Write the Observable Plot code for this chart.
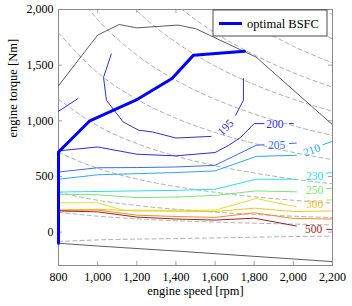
<!DOCTYPE html>
<html><head><meta charset="utf-8">
<script src="https://cdn.jsdelivr.net/npm/d3@7"></script>
<script src="https://cdn.jsdelivr.net/npm/@observablehq/plot@0.6"></script>
<style>html,body{margin:0;padding:0;background:#fff;} #chart{width:352px;height:306px;}
svg text{font-family:'Liberation Serif','Times New Roman',serif;}</style>
</head><body><div id="chart"></div>
<script>
// ---------- data ----------
const xTicks = [800, 1000, 1200, 1400, 1600, 1800, 2000, 2200];
const yTicks = [0, 500, 1000, 1500, 2000];
const xLabel = "engine speed [rpm]";
const yLabel = "engine torque [Nm]";
const legendLabel = "optimal BSFC";

// iso-power dashed lines: torque at the rpm ticks
const powerRpm = [800, 1000, 1200, 1400, 1600, 1800, 2000, 2200];
const powerNeg = [-85, -70, -63, -58, -52, -46, -40, -36];
const power15  = [179, 143, 119, 102, 90, 80, 72, 65];
const power30  = [358, 286, 239, 205, 179, 159, 143, 130];
const power60  = [716, 573, 477, 409, 358, 318, 286, 260];
const power100 = [1194, 955, 796, 682, 597, 531, 477, 434];
const power150 = [1790, 1432, 1194, 1023, 895, 796, 716, 651];
const power200 = [2387, 1910, 1592, 1364, 1194, 1061, 955, 868];
const power250 = [2984, 2387, 1989, 1705, 1492, 1326, 1194, 1085];
const power300 = [3581, 2865, 2387, 2046, 1790, 1592, 1432, 1302];
const power350 = [4178, 3342, 2785, 2387, 2089, 1857, 1671, 1519];
const power400 = [4775, 3820, 3183, 2728, 2387, 2122, 1910, 1736];
const power450 = [5371, 4297, 3581, 3070, 2686, 2387, 2149, 1953];

// full-load and motoring curves [rpm, torque]
const maxTorque = [[800,1315],[1000,1770],[1110,1865],[1200,1835],[1410,1860],[1500,1828],[1810,1572],[2200,965]];
const motoring = [[800,-100],[1000,-125],[1400,-170],[1800,-218],[2200,-265]];
const optimalBSFC = [[800,-100],[800,720],[960,1000],[1195,1185],[1380,1380],[1490,1590],[1750,1625]];

// BSFC contours [rpm, torque] (gaps where labels sit)
const c195a = [[1070,1600],[1030,1390],[1045,1185],[1130,990],[1210,915],[1280,900],[1400,845],[1580,860]];
const c195b = [[1705,1050],[1745,1185],[1745,1380]];
const c200a = [[800,1085],[900,1200]];
const c200b = [[800,730],[1000,765],[1200,700],[1400,685],[1600,715],[1670,780],[1730,850],[1800,975],[1850,975]];
const c200c = [[1980,975],[2000,975]];
const c205a = [[800,540],[1000,578],[1200,580],[1400,585],[1600,600],[1810,780],[1850,785]];
const c205b = [[1980,795],[2015,800]];
const c210a = [[800,475],[1000,515],[1200,525],[1400,535],[1600,550],[1810,680],[2015,690]];
const c210b = [[2150,785],[2200,815]];
const c230a = [[800,360],[1000,365],[1200,370],[1400,375],[1600,385],[1810,475],[2015,475]];
const c230b = [[2170,530],[2200,535]];
const c250a = [[800,340],[1000,335],[1200,310],[1400,315],[1600,330],[1810,370],[2015,362]];
const c250b = [[2170,390],[2200,395]];
const c300a = [[800,263],[1000,263],[1130,197],[1400,197],[1600,197],[1810,302],[2015,227]];
const c300b = [[2170,287],[2200,290]];
const c350  = [[800,200],[1000,205],[1200,190],[1400,188],[1600,185],[1800,215],[2000,185],[2200,190]];
const c400  = [[800,195],[1000,198],[1200,152],[1400,140],[1600,132],[1800,173],[2000,123],[2200,117]];
const c500a = [[800,190],[1000,182],[1200,135],[1400,118],[1600,108],[1800,125],[2015,55]];
const c500b = [[2170,25],[2200,22]];

// contour labels
const labelText   = ["195", "200", "205", "210", "230", "250", "300", "500"];
const labelRpm    = [1654, 1906, 1915, 2094, 2109, 2109, 2109, 2104];
const labelTorque = [940, 969, 780, 735, 500, 377, 251, 27];

// ---------- styles ----------
const levelColor = {
  195: "#3434b4", 200: "#2a2af0", 205: "#3b6bf0", 210: "#2ea8f8",
  230: "#2ee0e6", 250: "#78e678", 300: "#d2e636", 350: "#f4c424",
  400: "#f58a24", 500: "#9a2222"
};
const labelColor = {"195":"#3434b4","200":"#2a2af0","205":"#3b6bf0","210":"#2ea8f8","230":"#2ee0e6","250":"#78e678","300":"#f2c01a","500":"#9a2222"};
const labelAngle = {"195": -45, "210": -20};

const contourSegs = [
  [195, c195a], [195, c195b], [200, c200a], [200, c200b], [200, c200c],
  [205, c205a], [205, c205b], [210, c210a], [210, c210b],
  [230, c230a], [230, c230b], [250, c250a], [250, c250b],
  [300, c300a], [300, c300b], [350, c350], [400, c400], [500, c500a], [500, c500b]
];
const isoPower = [powerNeg, power15, power30, power60, power100, power150, power200, power250, power300, power350, power400, power450];

const W = 352, H = 306;
const mL = 58, mR = 20, mT = 9, mB = 41;
const frameW = W - mL - mR, frameH = H - mT - mB;
const tickLen = 4;
const font = "'Liberation Serif', 'Times New Roman', serif";

const marks = [];
marks.push(Plot.frame({stroke: "#8a8a8a", strokeWidth: 1}));
marks.push(Plot.tickX(xTicks, {x: d => d, insetTop: frameH - tickLen, stroke: "#8a8a8a", strokeWidth: 0.8}));
marks.push(Plot.tickX(xTicks, {x: d => d, insetBottom: frameH - tickLen, stroke: "#8a8a8a", strokeWidth: 0.8}));
marks.push(Plot.tickY(yTicks, {y: d => d, insetRight: frameW - tickLen, stroke: "#8a8a8a", strokeWidth: 0.8}));
marks.push(Plot.tickY(yTicks, {y: d => d, insetLeft: frameW - tickLen, stroke: "#8a8a8a", strokeWidth: 0.8}));
// dashed iso-power lines
for (const arr of isoPower) {
  marks.push(Plot.line(powerRpm.map((n, i) => ({rpm: n, torque: arr[i]})), {
    x: "rpm", y: "torque", curve: "monotone-x", clip: true,
    stroke: "#9a9a9a", strokeWidth: 0.8, strokeDasharray: "4,3.2"
  }));
}
// contours
for (const [lvl, pts] of contourSegs) {
  marks.push(Plot.line(pts, {x: d => d[0], y: d => d[1], clip: true,
    stroke: levelColor[lvl], strokeWidth: 1}));
}
// black curves
marks.push(Plot.line(maxTorque, {x: d => d[0], y: d => d[1], stroke: "#1a1a1a", strokeWidth: 0.7, clip: true}));
marks.push(Plot.line(motoring, {x: d => d[0], y: d => d[1], stroke: "#1a1a1a", strokeWidth: 0.7, clip: true}));
// optimal BSFC
marks.push(Plot.line(optimalBSFC, {x: d => d[0], y: d => d[1], stroke: "#0000ff", strokeWidth: 3}));
// contour labels
labelText.forEach((t, i) => {
  marks.push(Plot.text([t], {x: () => labelRpm[i], y: () => labelTorque[i], text: d => d,
    fill: labelColor[t], fontSize: 11.5, fontFamily: font, rotate: labelAngle[t] || 0}));
});
// axes
marks.push(Plot.axisX({ticks: xTicks, tickFormat: d3.format(","), tickSize: 0, tickPadding: 7, label: null, fontSize: 12, fontFamily: font}));
marks.push(Plot.axisY({ticks: yTicks, tickFormat: d3.format(","), tickSize: 0, tickPadding: 5, label: null, fontSize: 12, fontFamily: font}));
marks.push(Plot.text([xLabel], {frameAnchor: "bottom", dy: 29, text: d => d, fontSize: 12.5, fontFamily: font}));
marks.push(Plot.text([yLabel], {frameAnchor: "left", dx: -46, rotate: -90, text: d => d, fontSize: 12.5, fontFamily: font}));

const svg = Plot.plot({
  width: W, height: H,
  marginLeft: mL, marginRight: mR, marginTop: mT, marginBottom: mB,
  x: {domain: [800, 2200]},
  y: {domain: [-300, 2000]},
  style: {fontFamily: font, fontSize: "12px", color: "#000", background: "#fff", overflow: "visible"},
  marks
});

// legend (drawn on top, inside the frame's upper-right corner)
const lg = d3.select(svg).append("g").attr("font-family", font).attr("font-size", 12.5).attr("text-anchor", "start");
const lgW = 114, lgH = 26;
const lgX = W - mR - 5 - lgW, lgY = mT + 1;
lg.append("rect").attr("x", lgX).attr("y", lgY).attr("width", lgW).attr("height", lgH)
  .attr("fill", "#fff").attr("stroke", "#3a3a3a").attr("stroke-width", 0.9);
lg.append("line").attr("x1", lgX + 6).attr("x2", lgX + 29).attr("y1", lgY + 13.5).attr("y2", lgY + 13.5)
  .attr("stroke", "#0000ff").attr("stroke-width", 3);
lg.append("text").attr("x", lgX + 34).attr("y", lgY + 17.5).attr("text-anchor", "start").attr("fill", "#000").text(legendLabel);

document.getElementById("chart").appendChild(svg);
</script>
</body></html>
